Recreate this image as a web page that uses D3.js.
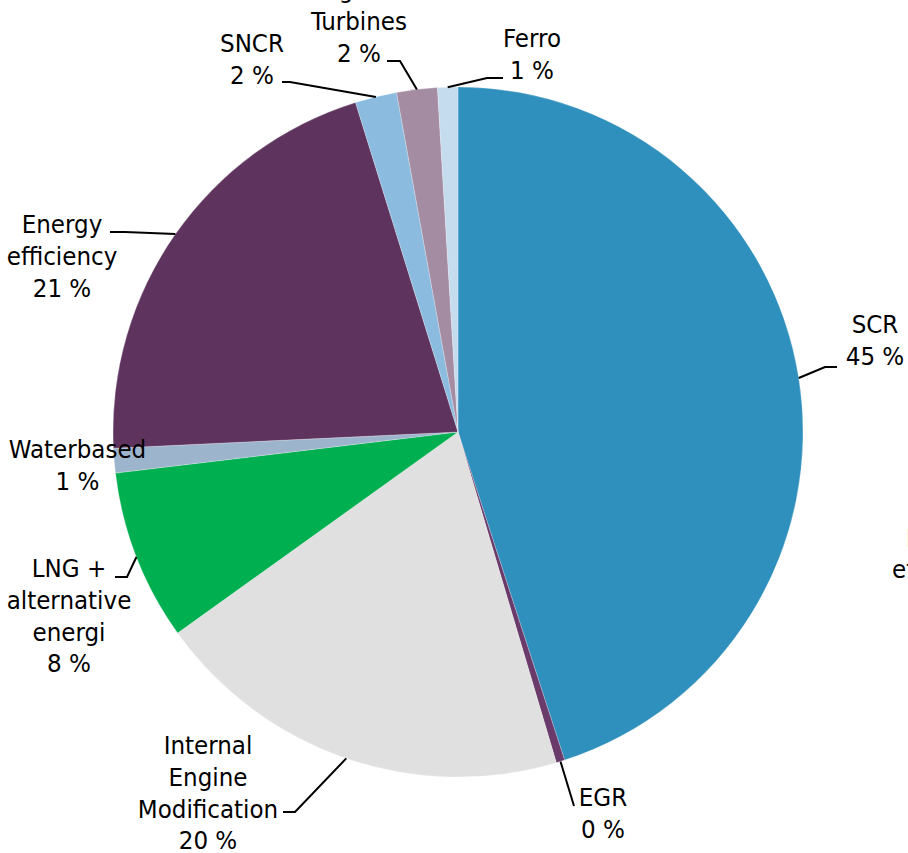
<!DOCTYPE html>
<html>
<head>
<meta charset="utf-8">
<script src="https://cdn.jsdelivr.net/npm/d3@7"></script>
<style>
	html, body { margin: 0; padding: 0; background: #fff; overflow: hidden; }
	svg { display: block; }
	text { font-family: "DejaVu Sans Condensed", "DejaVu Sans", sans-serif; font-size: 25.6px; fill: #000; }
</style>
</head>
<body>
<svg id="chart" width="908" height="853"></svg>
<script>
// slices, clockwise from 12 o'clock
var categories = ["SCR", "EGR", "Internal Engine Modification", "LNG + alternative energi",
	"Waterbased", "Energy efficiency", "SNCR", "gas Turbines", "Ferro"];
var shares = [45.0, 0.4, 19.7, 8.0, 1.15, 20.95, 1.95, 1.9, 0.95];
var pctLabels = ["45 %", "0 %", "20 %", "8 %", "1 %", "21 %", "2 %", "2 %", "1 %"];
var nameLines = [["SCR"], ["EGR"], ["Internal", "Engine", "Modification"], ["LNG +", "alternative", "energi"],
	["Waterbased"], ["Energy", "efficiency"], ["SNCR"], ["gas", "Turbines"], ["Ferro"]];
var colors = ["#2f8fbd", "#6a3a6a", "#e0e0e0", "#00af50", "#9cb5cd", "#5e345e", "#8bbcdf", "#a48ca3", "#c5dbee"];

document.addEventListener("DOMContentLoaded", init);

function init() {
	var cx = 458, cy = 432, r = 345;
	var svg = d3.select("#chart");

	var pie = d3.pie().sort(null).value(d => d.v);
	var arc = d3.arc().innerRadius(0).outerRadius(r);

	var data = categories.map((c, i) => ({
		name: c, v: shares[i], color: colors[i],
		lines: nameLines[i].concat([pctLabels[i]])
	}));
	var arcs = pie(data);

	var g = svg.append("g").attr("transform", `translate(${cx},${cy})`);
	g.selectAll(".slice")
	  .data(arcs)
	  .enter()
	  .append("path")
	  .classed("slice", true)
	  .attr("d", arc)
	  .style("fill", d => d.data.color)
	  .style("stroke", "#fff")
	  .style("stroke-width", 0.4)
	  .style("stroke-opacity", 0.6);

	// label layout: text centre x, first baseline, then leader elbow + end (null = no leader)
	var layout = [
		{x: 875, y: 333, leader: [[825, 367], [837, 367]]},
		{x: 603, y: 806, leader: [[574, 806]]},
		{x: 208, y: 754, leader: [[295, 812], [283, 812]]},
		{x: 69, y: 577, leader: [[127, 577], [115, 577]]},
		{x: 77.5, y: 458, leader: null},
		{x: 62, y: 233, leader: [[125, 232], [110, 232]]},
		{x: 252, y: 52, leader: [[290, 82], [282, 82]]},
		{x: 359, y: -2, leader: [[400, 61], [387, 61]]},
		{x: 532, y: 47, leader: [[487, 78], [503, 78]]}
	];
	var lineH = 31.8;

	var lbl = svg.append("g");
	arcs.forEach((a, i) => {
		var L = layout[i];
		if (L.leader) {
			var mid = (a.startAngle + a.endAngle) / 2;
			var start = [cx + r * Math.sin(mid), cy - r * Math.cos(mid)];
			lbl.append("path")
			   .attr("d", d3.line()([start].concat(L.leader)))
			   .style("fill", "none")
			   .style("stroke", "#000")
			   .style("stroke-width", 2);
		}
		lbl.append("text")
		   .attr("text-anchor", "middle")
		   .selectAll("tspan")
		   .data(a.data.lines)
		   .enter()
		   .append("tspan")
		   .attr("x", L.x)
		   .attr("y", (d, j) => L.y + j * lineH)
		   .text(d => d);
	});

	// label of the neighbouring chart, cut off at the right edge
	svg.append("text")
	   .selectAll("tspan")
	   .data(["Energy", "efficiency"])
	   .enter()
	   .append("tspan")
	   .attr("x", (d, j) => j ? 892 : 906)
	   .attr("y", (d, j) => 547 + j * 31)
	   .text(d => d);
}
</script>
</body>
</html>
